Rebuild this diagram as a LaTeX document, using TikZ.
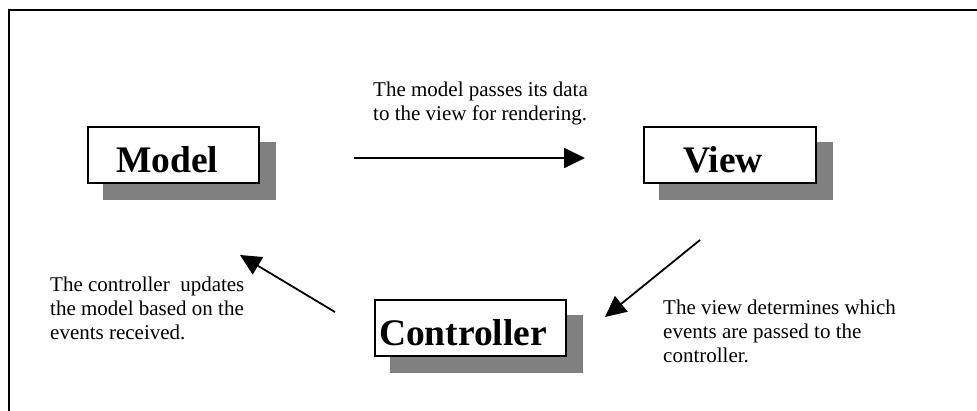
\documentclass[tikz,border=0pt]{standalone}
\usepackage{fontspec}
\setmainfont{Liberation Serif}
\usetikzlibrary{arrows.meta,shadows}
\definecolor{shadowgray}{RGB}{128,128,128}

\begin{document}
\begin{tikzpicture}[x=1pt,y=-1pt,
  mvcbox/.style={rectangle, draw=black, line width=2pt, fill=white,
    font=\fontsize{37.5}{40}\selectfont\bfseries, align=left,
    text height=34pt, text depth=0pt, inner ysep=11pt, anchor=north west,
    drop shadow={shadow xshift=16pt, shadow yshift=-16pt,
      fill=shadowgray, draw=shadowgray, opacity=1}},
  note/.style={font=\fontsize{21}{24}\selectfont, align=left,
    anchor=north west, inner sep=0pt},
  flow/.style={line width=1.8pt, -{Triangle[length=21pt,width=20pt]}},
  frame/.style={line width=2pt}]

  \useasboundingbox (0,0) rectangle (977,410);

  % page frame: top and left rules only
  \draw[frame] (9,412) -- (9,10) -- (979,10);

  % the three MVC components
  \node[mvcbox, text width=115pt, inner xsep=28pt] (model) at (87,126) {Model};
  \node[mvcbox, text width=94pt, inner xsep=39pt] (view) at (643,126) {View};
  \node[mvcbox, text width=183pt, inner xsep=4pt] (controller) at (374,299) {Controller};

  % explanatory notes
  \node[note] (passnote) at (373,82) {The model passes its data\\to the view for rendering.};
  \node[note] (updatenote) at (50,277) {The controller\ \ updates\\the model based on the\\events received.};
  \node[note] (eventnote) at (663,300) {The view determines which\\events are passed to the\\controller.};

  % arrow end points
  \coordinate (m2v-start) at (354,158);
  \coordinate (m2v-end) at (585,158);
  \coordinate (v2c-start) at (700,240);
  \coordinate (v2c-end) at (605,317);
  \coordinate (c2m-start) at (335,312);
  \coordinate (c2m-end) at (240,255);

  \draw[flow] (m2v-start) -- (m2v-end);
  \draw[flow] (v2c-start) -- (v2c-end);
  \draw[flow] (c2m-start) -- (c2m-end);
\end{tikzpicture}
\end{document}
